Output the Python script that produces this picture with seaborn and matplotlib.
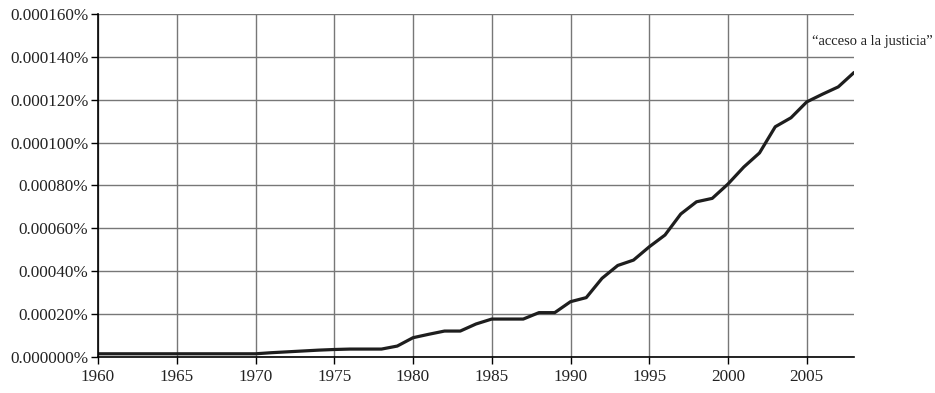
import matplotlib
matplotlib.use("Agg")
import matplotlib.pyplot as plt
import pandas as pd
import seaborn as sns

# yearly frequency of the phrase, in units of 1e-6 percent
years = list(range(1960, 2009))
freq = [1.5, 1.5, 1.5, 1.5, 1.5, 1.5, 1.5, 1.5, 1.5, 1.5,
        1.5, 2.0, 2.4, 2.8, 3.2, 3.5, 3.7, 3.7, 3.7, 5.1,
        9.0, 10.6, 12.1, 12.1, 15.4, 17.7, 17.7, 17.7, 20.7, 20.7,
        25.8, 27.7, 36.7, 42.7, 45.2, 51.4, 56.9, 66.7, 72.4, 74.0,
        80.7, 88.6, 95.2, 107.4, 111.6, 119.0, 122.6, 126.0, 132.7]

y_ticks = [0, 20, 40, 60, 80, 100, 120, 140, 160]
y_labels = ['0.000000%', '0.00020%', '0.00040%', '0.00060%', '0.00080%',
            '0.000100%', '0.000120%', '0.000140%', '0.000160%']
x_ticks = [1960, 1965, 1970, 1975, 1980, 1985, 1990, 1995, 2000, 2005]
phrase = '\u201cacceso a la justicia\u201d'

df = pd.DataFrame({'year': years, 'freq': freq})

sns.set_style('white')
plt.rcParams['font.family'] = ['Liberation Serif', 'DejaVu Serif']

fig = plt.figure(figsize=(9.35, 3.93), dpi=100)
ax = fig.add_axes([98 / 935, 36 / 393, (854 - 98) / 935, (357 - 14) / 393])

sns.lineplot(data=df, x='year', y='freq', ax=ax, color='#1e1e1e', linewidth=2.3)

ax.set_xlim(1960, 2008)
ax.set_ylim(0, 160)
ax.set_xticks(x_ticks)
ax.set_yticks(y_ticks)
ax.set_yticklabels(y_labels)
ax.grid(True, color='#777777', linewidth=1.0)
ax.set_axisbelow(True)
for s in ['top', 'right']:
    ax.spines[s].set_visible(False)
for s in ['left', 'bottom']:
    ax.spines[s].set_color('black')
    ax.spines[s].set_linewidth(1.2)
ax.tick_params(axis='both', length=5, width=1, color='black', labelsize=12.3,
               labelcolor='#222222', direction='out', left=True, bottom=True)
ax.tick_params(axis='x', pad=3.5)
ax.tick_params(axis='y', pad=2)
ax.set_xlabel('')
ax.set_ylabel('')

ax.text(2005.35, 147, phrase, ha='left', va='center', fontsize=10.5,
        color='#222222', clip_on=False, transform=ax.transData)

fig.savefig('out.png', dpi=100)
